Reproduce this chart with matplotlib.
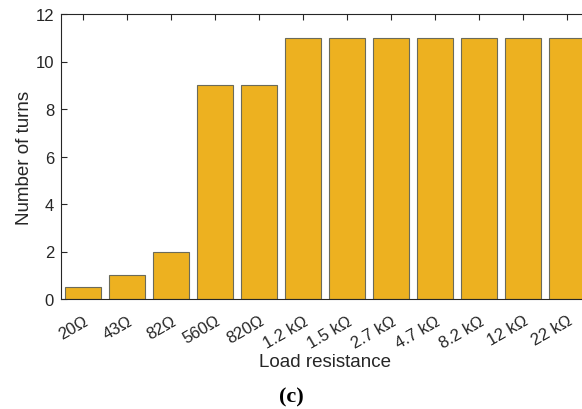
import matplotlib.pyplot as plt
import numpy as np

# Datos
resistencias = ['20Ω', '43Ω', '82Ω', '560Ω', '820Ω', '1.2 kΩ', '1.5 kΩ',
                '2.7 kΩ', '4.7 kΩ', '8.2 kΩ', '12 kΩ', '22 kΩ']
vueltas = [0.5, 1, 2, 9, 9, 11, 11, 11, 11, 11, 11, 11]

plt.rcParams['font.family'] = ['Liberation Sans', 'DejaVu Sans']
gris = '#262626'

fig = plt.figure(figsize=(5.82, 4.10), dpi=100)
ax = fig.add_axes([61 / 582, 1 - 300 / 410, 528 / 582, 285 / 410])

x = np.arange(1, len(resistencias) + 1)
ax.bar(x, vueltas, width=0.8, color='#EDB120', edgecolor='#6b6b5a', linewidth=0.8, zorder=2)

ax.set_xlim(0.5, 12.5)
ax.set_ylim(0, 12)
ax.set_yticks(range(0, 13, 2))
ax.set_xticks(x)
ax.set_xticklabels(resistencias, rotation=30, ha='right', va='top', rotation_mode='anchor')

ax.tick_params(axis='both', direction='in', length=4, width=0.8, color=gris,
               labelcolor=gris, labelsize=12, top=True, right=True)
ax.tick_params(axis='x', pad=10)
ax.tick_params(axis='y', pad=5)
for s in ax.spines.values():
    s.set_color(gris)
    s.set_linewidth(0.8)
    s.set_zorder(3)

ax.set_ylabel('Number of turns', fontsize=13.5, color=gris, labelpad=2)
ax.set_xlabel('Load resistance', fontsize=13.5, color=gris, labelpad=2)

fig.text(0.5, 1 - 397 / 410, '(c)', ha='center', va='center', fontsize=16,
         fontweight='bold', family='Liberation Serif', color='black')

fig.savefig('out.png', dpi=100)
